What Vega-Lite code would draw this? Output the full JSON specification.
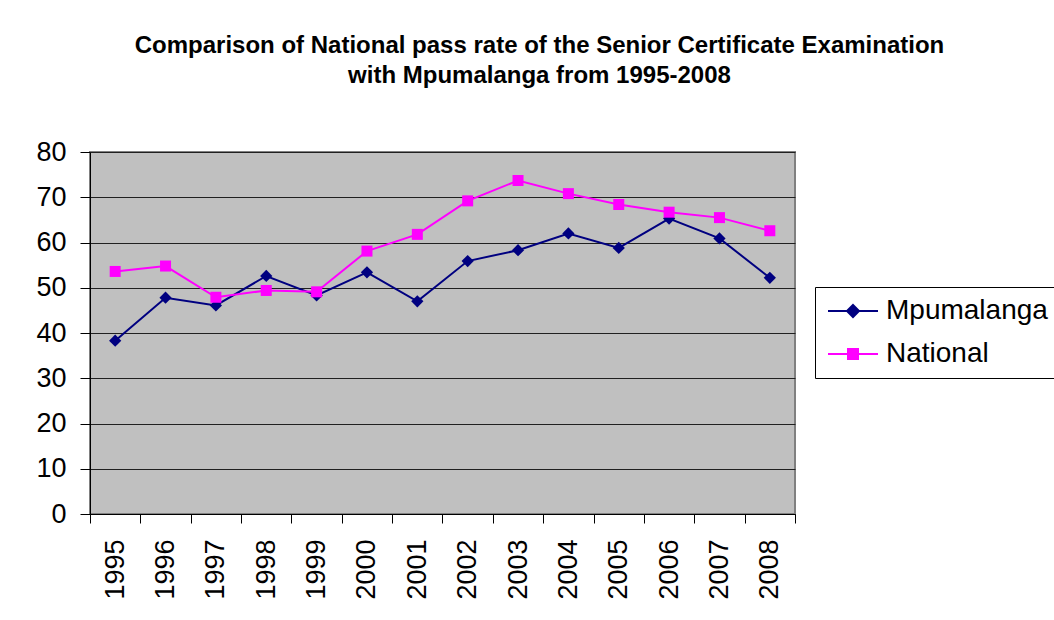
{
  "$schema": "https://vega.github.io/schema/vega-lite/v6.json",
  "width": 705,
  "height": 362,
  "autosize": {"type": "none"},
  "padding": {"left": 90, "top": 152, "right": 259, "bottom": 106},
  "background": "white",
  "config": {
    "font": "Liberation Sans",
    "view": {"fill": "#C0C0C0", "stroke": "#808080", "strokeWidth": 2}
  },
  "title": {
    "text": ["Comparison of National pass rate of the Senior Certificate Examination", "with Mpumalanga from 1995-2008"],
    "font": "Liberation Sans",
    "fontSize": 24,
    "fontWeight": "bold",
    "color": "black",
    "anchor": "middle",
    "dx": 97,
    "lineHeight": 30,
    "offset": 50
  },
  "data": {
    "values": [
      {"year": "1995", "series": "Mpumalanga", "rate": 38.3},
      {"year": "1996", "series": "Mpumalanga", "rate": 47.8},
      {"year": "1997", "series": "Mpumalanga", "rate": 46.1},
      {"year": "1998", "series": "Mpumalanga", "rate": 52.6},
      {"year": "1999", "series": "Mpumalanga", "rate": 48.3},
      {"year": "2000", "series": "Mpumalanga", "rate": 53.4},
      {"year": "2001", "series": "Mpumalanga", "rate": 47.0},
      {"year": "2002", "series": "Mpumalanga", "rate": 55.9},
      {"year": "2003", "series": "Mpumalanga", "rate": 58.3},
      {"year": "2004", "series": "Mpumalanga", "rate": 62.0},
      {"year": "2005", "series": "Mpumalanga", "rate": 58.8},
      {"year": "2006", "series": "Mpumalanga", "rate": 65.3},
      {"year": "2007", "series": "Mpumalanga", "rate": 60.9},
      {"year": "2008", "series": "Mpumalanga", "rate": 52.2},
      {"year": "1995", "series": "National", "rate": 53.6},
      {"year": "1996", "series": "National", "rate": 54.8},
      {"year": "1997", "series": "National", "rate": 47.9},
      {"year": "1998", "series": "National", "rate": 49.4},
      {"year": "1999", "series": "National", "rate": 49.1},
      {"year": "2000", "series": "National", "rate": 58.1},
      {"year": "2001", "series": "National", "rate": 61.8},
      {"year": "2002", "series": "National", "rate": 69.2},
      {"year": "2003", "series": "National", "rate": 73.7},
      {"year": "2004", "series": "National", "rate": 70.8},
      {"year": "2005", "series": "National", "rate": 68.4},
      {"year": "2006", "series": "National", "rate": 66.7},
      {"year": "2007", "series": "National", "rate": 65.5},
      {"year": "2008", "series": "National", "rate": 62.6}
    ]
  },
  "encoding": {
    "x": {
      "field": "year",
      "type": "ordinal",
      "bandPosition": 0.5,
      "scale": {"type": "band", "paddingInner": 0, "paddingOuter": 0},
      "axis": {
        "title": null,
        "labelAngle": -90,
        "labelFontSize": 27,
        "labelColor": "black",
        "labelPadding": 16,
        "domainColor": "black",
        "domainWidth": 1,
        "tickColor": "black",
        "tickSize": 9,
        "tickBand": "extent",
        "grid": false
      }
    },
    "y": {
      "field": "rate",
      "type": "quantitative",
      "scale": {"domain": [0, 80], "nice": false},
      "axis": {
        "title": null,
        "values": [0, 10, 20, 30, 40, 50, 60, 70, 80],
        "labelFontSize": 27,
        "labelColor": "black",
        "labelPadding": 14,
        "domainColor": "black",
        "tickColor": "black",
        "tickSize": 10,
        "gridColor": "#202020",
        "gridOpacity": 1,
        "gridWidth": 1
      }
    },
    "color": {
      "field": "series",
      "type": "nominal",
      "scale": {"domain": ["Mpumalanga", "National"], "range": ["#000080", "#FF00FF"]},
      "legend": {
        "title": null,
        "orient": "none",
        "legendX": 725,
        "legendY": 135,
        "strokeColor": "black",
        "fillColor": "white",
        "padding": 10,
        "labelFontSize": 28,
        "labelColor": "black",
        "labelOffset": 19,
        "symbolSize": 100,
        "symbolOffset": 14,
        "rowPadding": 15,
        "labelLimit": 300,
        "symbolType": {"expr": "datum.value === 'Mpumalanga' ? 'M-5,0H5M0,-1.2L1.2,0L0,1.2L-1.2,0Z' : 'M-5,0H5M-1,-1H1V1H-1Z'"},
        "symbolStrokeColor": {"expr": "datum.value === 'Mpumalanga' ? '#000080' : '#FF00FF'"},
        "symbolFillColor": {"expr": "datum.value === 'Mpumalanga' ? '#000080' : '#FF00FF'"},
        "symbolStrokeWidth": 2,
        "symbolOpacity": 1
      }
    }
  },
  "layer": [
    {"mark": {"type": "line", "strokeWidth": 2}},
    {
      "transform": [{"filter": "datum.series === 'Mpumalanga'"}],
      "mark": {"type": "point", "filled": true, "opacity": 1, "shape": "diamond", "size": 150}
    },
    {
      "transform": [{"filter": "datum.series === 'National'"}],
      "mark": {"type": "point", "filled": true, "opacity": 1, "shape": "square", "size": 121}
    }
  ]
}
